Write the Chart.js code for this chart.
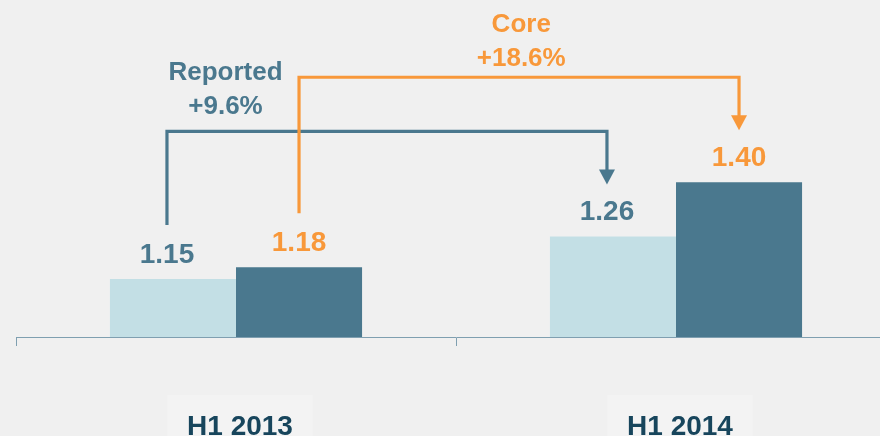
<!DOCTYPE html>
<html>
<head>
<meta charset="utf-8">
<script src="https://cdn.jsdelivr.net/npm/chart.js@4"></script>
<style>
  html, body { margin: 0; padding: 0; background: #f0f0f0; overflow: hidden; }
  #wrap { width: 896px; height: 436px; position: relative; }
</style>
</head>
<body>
<div id="wrap"><canvas id="chart"></canvas></div>
<script>
// data
const categories = ["H1 2013", "H1 2014"];
const seriesNames = ["Reported", "Core"];
const reported = [1.15, 1.26];
const core = [1.18, 1.40];

const FONT = "'Liberation Sans', Arial, sans-serif";
const BLUE = "#4a788e";
const LIGHT = "#c3dfe5";
const ORANGE = "#f8983a";

// look of each series: bar colour, label colour, label shift
const looks = [
  { bar: LIGHT, text: BLUE, dx: -6, titleFrac: 0.133, titleGap: 17 },
  { bar: BLUE, text: ORANGE, dx: 0, titleFrac: 0.505, titleGap: 11 }
];

const labelsPlugin = {
  id: "labels",
  afterDatasetsDraw(chart) {
    const ctx = chart.ctx;
    ctx.save();
    ctx.textAlign = "center";
    ctx.textBaseline = "alphabetic";

    // value labels above the bars
    ctx.font = "bold 28px " + FONT;
    chart.data.datasets.forEach((ds, di) => {
      const look = looks[di];
      chart.getDatasetMeta(di).data.forEach((bar, i) => {
        ctx.fillStyle = look.text;
        ctx.fillText(ds.data[i].toFixed(2), bar.x + look.dx, bar.y - 16);
      });
    });

    // growth brackets, from first period to second
    chart.data.datasets.forEach((ds, di) => {
      const look = looks[di];
      const bars = chart.getDatasetMeta(di).data;
      const a = bars[0], b = bars[1];
      const x1 = a.x + look.dx, x2 = b.x + look.dx;
      const yStart = a.y - 54;
      const yTop = b.y - 105;
      const yTip = b.y - 52;
      ctx.strokeStyle = look.text;
      ctx.fillStyle = look.text;
      ctx.lineWidth = 3.2;
      ctx.lineJoin = "miter";
      ctx.beginPath();
      ctx.moveTo(x1, yStart);
      ctx.lineTo(x1, yTop);
      ctx.lineTo(x2, yTop);
      ctx.lineTo(x2, yTip - 14);
      ctx.stroke();
      ctx.beginPath();
      ctx.moveTo(x2 - 8, yTip - 15);
      ctx.lineTo(x2 + 8, yTip - 15);
      ctx.lineTo(x2, yTip);
      ctx.closePath();
      ctx.fill();

      const pct = ((ds.data[1] / ds.data[0] - 1) * 100).toFixed(1);
      const tx = x1 + (x2 - x1) * look.titleFrac;
      ctx.font = "bold 26px " + FONT;
      ctx.fillText(seriesNames[di], tx, yTop - look.titleGap - 34);
      ctx.fillText("+" + pct + "%", tx, yTop - look.titleGap);
    });
    ctx.restore();
  }
};

new Chart(document.getElementById("chart"), {
  type: "bar",
  data: {
    labels: categories,
    datasets: [
      { label: seriesNames[0], data: reported, backgroundColor: LIGHT },
      { label: seriesNames[1], data: core, backgroundColor: BLUE }
    ]
  },
  options: {
    responsive: true,
    maintainAspectRatio: false,
    animation: false,
    layout: { padding: { left: 16, top: 0, right: 0, bottom: 0 } },
    barPercentage: 1,
    categoryPercentage: 0.573,
    plugins: {
      legend: { display: false },
      tooltip: { enabled: false }
    },
    scales: {
      y: {
        display: false,
        min: 1.0,
        max: 1.871
      },
      x: {
        afterFit(scale) {
          scale.height = 99;
        },
        grid: {
          display: true,
          offset: true,
          drawOnChartArea: false,
          drawTicks: true,
          tickLength: 9,
          color: "#7f9fb0"
        },
        border: { display: true, color: "#7f9fb0", width: 1 },
        ticks: {
          color: "#17455c",
          font: { family: FONT, size: 28, weight: "bold" },
          padding: 64,
          labelOffset: 4,
          showLabelBackdrop: true,
          backdropColor: "#f3f3f3",
          backdropPadding: { left: 20, right: 20, top: 15, bottom: 20 }
        }
      }
    }
  },
  plugins: [labelsPlugin]
});
</script>
</body>
</html>
